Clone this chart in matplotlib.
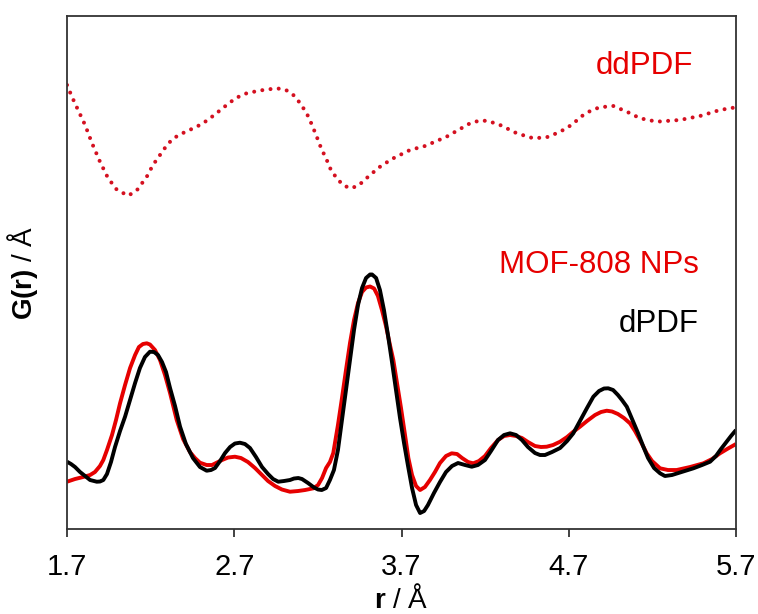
import matplotlib
matplotlib.use("Agg")
import matplotlib.pyplot as plt

plt.rcParams["font.family"] = ["Liberation Sans", "DejaVu Sans"]
plt.rcParams["mathtext.fontset"] = "custom"
plt.rcParams["mathtext.rm"] = "Liberation Sans"
plt.rcParams["mathtext.bf"] = "Liberation Sans:bold"

# dPDF (black)
r_dpdf = [1.700, 1.724, 1.748, 1.778, 1.808, 1.838, 1.878, 1.897, 1.917, 1.939,
          1.963, 1.987, 2.017, 2.047, 2.077, 2.107, 2.136, 2.166, 2.196, 2.220,
          2.244, 2.268, 2.292, 2.316, 2.346, 2.376, 2.411, 2.453, 2.495, 2.535,
          2.561, 2.585, 2.615, 2.645, 2.675, 2.704, 2.734, 2.764, 2.794, 2.830,
          2.866, 2.902, 2.932, 2.963, 2.997, 3.033, 3.057, 3.083, 3.105, 3.141,
          3.177, 3.201, 3.223, 3.249, 3.272, 3.296, 3.320, 3.344, 3.368, 3.392,
          3.416, 3.440, 3.464, 3.488, 3.512, 3.524, 3.548, 3.571, 3.595, 3.619,
          3.643, 3.667, 3.691, 3.715, 3.739, 3.763, 3.787, 3.811, 3.835, 3.858,
          3.894, 3.930, 3.966, 4.002, 4.038, 4.080, 4.120, 4.157, 4.199, 4.235,
          4.277, 4.313, 4.349, 4.385, 4.420, 4.456, 4.498, 4.528, 4.558, 4.600,
          4.648, 4.690, 4.727, 4.767, 4.809, 4.847, 4.881, 4.911, 4.936, 4.965,
          4.994, 5.018, 5.047, 5.078, 5.114, 5.146, 5.174, 5.210, 5.246, 5.275,
          5.317, 5.365, 5.445, 5.497, 5.545, 5.580, 5.610, 5.644, 5.670, 5.700]
g_dpdf = [0.673, 0.650, 0.620, 0.570, 0.530, 0.490, 0.473, 0.475, 0.490, 0.550,
          0.670, 0.820, 0.980, 1.123, 1.290, 1.460, 1.610, 1.720, 1.773, 1.770,
          1.740, 1.670, 1.570, 1.410, 1.230, 1.023, 0.850, 0.710, 0.620, 0.583,
          0.590, 0.610, 0.680, 0.760, 0.820, 0.855, 0.863, 0.850, 0.810, 0.720,
          0.620, 0.550, 0.500, 0.473, 0.480, 0.490, 0.505, 0.510, 0.500, 0.460,
          0.415, 0.395, 0.390, 0.410, 0.490, 0.590, 0.790, 1.090, 1.390, 1.690,
          1.990, 2.240, 2.410, 2.510, 2.545, 2.545, 2.510, 2.390, 2.190, 1.940,
          1.670, 1.390, 1.110, 0.860, 0.630, 0.410, 0.240, 0.160, 0.180, 0.240,
          0.360, 0.470, 0.570, 0.630, 0.660, 0.640, 0.623, 0.640, 0.690, 0.780,
          0.890, 0.940, 0.957, 0.940, 0.890, 0.820, 0.760, 0.740, 0.740, 0.770,
          0.810, 0.880, 0.957, 1.080, 1.210, 1.323, 1.380, 1.405, 1.407, 1.390,
          1.340, 1.290, 1.223, 1.100, 0.960, 0.823, 0.710, 0.610, 0.557, 0.530,
          0.540, 0.565, 0.607, 0.640, 0.673, 0.730, 0.800, 0.873, 0.930, 0.990]

# MOF-808 NPs (red)
r_mof = [1.700, 1.748, 1.796, 1.838, 1.867, 1.897, 1.917, 1.939, 1.969, 1.993,
         2.017, 2.047, 2.077, 2.107, 2.130, 2.154, 2.177, 2.196, 2.226, 2.256,
         2.286, 2.316, 2.356, 2.394, 2.435, 2.465, 2.495, 2.535, 2.567, 2.603,
         2.627, 2.663, 2.704, 2.740, 2.782, 2.824, 2.866, 2.902, 2.944, 2.985,
         3.033, 3.081, 3.123, 3.173, 3.201, 3.225, 3.249, 3.272, 3.292, 3.320,
         3.344, 3.368, 3.392, 3.416, 3.440, 3.464, 3.488, 3.512, 3.536, 3.559,
         3.583, 3.607, 3.631, 3.651, 3.673, 3.697, 3.721, 3.741, 3.763, 3.787,
         3.811, 3.840, 3.870, 3.900, 3.930, 3.966, 4.000, 4.032, 4.062, 4.098,
         4.129, 4.163, 4.199, 4.235, 4.277, 4.313, 4.349, 4.385, 4.420, 4.456,
         4.498, 4.534, 4.568, 4.606, 4.648, 4.690, 4.725, 4.767, 4.809, 4.857,
         4.893, 4.927, 4.959, 4.994, 5.030, 5.066, 5.096, 5.132, 5.166, 5.198,
         5.246, 5.293, 5.345, 5.425, 5.505, 5.557, 5.604, 5.652, 5.700]
g_mof = [0.473, 0.500, 0.520, 0.540, 0.570, 0.630, 0.690, 0.790, 0.940, 1.090,
         1.257, 1.440, 1.610, 1.740, 1.820, 1.850, 1.857, 1.845, 1.790, 1.690,
         1.540, 1.360, 1.090, 0.900, 0.770, 0.710, 0.663, 0.640, 0.640, 0.670,
         0.690, 0.715, 0.723, 0.710, 0.670, 0.610, 0.540, 0.480, 0.430, 0.395,
         0.373, 0.380, 0.390, 0.407, 0.440, 0.510, 0.610, 0.670, 0.760, 1.040,
         1.310, 1.590, 1.860, 2.090, 2.260, 2.370, 2.415, 2.425, 2.405, 2.330,
         2.190, 2.030, 1.840, 1.690, 1.460, 1.210, 0.940, 0.710, 0.540, 0.430,
         0.390, 0.420, 0.490, 0.570, 0.660, 0.730, 0.757, 0.750, 0.710, 0.670,
         0.657, 0.680, 0.730, 0.810, 0.890, 0.930, 0.940, 0.930, 0.910, 0.870,
         0.830, 0.820, 0.823, 0.840, 0.873, 0.920, 0.970, 1.023, 1.080, 1.140,
         1.170, 1.183, 1.175, 1.150, 1.110, 1.057, 0.980, 0.870, 0.757, 0.680,
         0.607, 0.590, 0.590, 0.620, 0.657, 0.700, 0.757, 0.805, 0.850]

# ddPDF (red dotted, offset)
r_dd = [1.700, 1.730, 1.766, 1.808, 1.849, 1.897, 1.945, 1.999, 2.067, 2.119,
        2.177, 2.214, 2.256, 2.298, 2.336, 2.394, 2.455, 2.507, 2.555, 2.603,
        2.655, 2.710, 2.774, 2.854, 2.954, 3.009, 3.053, 3.093, 3.133, 3.165,
        3.193, 3.219, 3.253, 3.278, 3.313, 3.350, 3.392, 3.440, 3.512, 3.577,
        3.651, 3.751, 3.841, 3.970, 4.050, 4.110, 4.169, 4.217, 4.289, 4.389,
        4.488, 4.568, 4.624, 4.688, 4.737, 4.787, 4.839, 4.887, 4.966, 5.047,
        5.126, 5.226, 5.365, 5.485, 5.604, 5.700]
g_dd = [4.440, 4.320, 4.190, 4.040, 3.860, 3.673, 3.510, 3.390, 3.333, 3.390,
        3.523, 3.640, 3.740, 3.840, 3.907, 3.960, 4.007, 4.050, 4.107, 4.170,
        4.240, 4.310, 4.357, 4.385, 4.407, 4.390, 4.340, 4.260, 4.157, 4.040,
        3.923, 3.810, 3.690, 3.590, 3.507, 3.440, 3.407, 3.430, 3.540, 3.630,
        3.707, 3.790, 3.830, 3.923, 4.000, 4.057, 4.085, 4.080, 4.040, 3.957,
        3.907, 3.917, 3.955, 4.007, 4.070, 4.140, 4.190, 4.217, 4.230, 4.173,
        4.107, 4.073, 4.090, 4.130, 4.190, 4.217]

x_ticks = [1.7, 2.7, 3.7, 4.7, 5.7]
x_tick_labels = ["1.7", "2.7", "3.7", "4.7", "5.7"]

RED = "#e60000"
DOT_RED = "#d41020"

fig = plt.figure(figsize=(7.58, 6.14), dpi=100)
ax = fig.add_axes([0.0884, 0.1384, 0.8826, 0.8356])

ax.plot(r_dd, g_dd, color=DOT_RED, lw=2.9, linestyle=(0, (0.001, 2.05)),
        dash_capstyle="round", solid_capstyle="round")
ax.plot(r_mof, g_mof, color=RED, lw=2.8, solid_joinstyle="round",
        solid_capstyle="butt")
ax.plot(r_dpdf, g_dpdf, color="black", lw=2.8, solid_joinstyle="round",
        solid_capstyle="butt")

ax.set_xlim(1.7, 5.7)
ax.set_ylim(0, 5.13)
ax.set_xticks(x_ticks)
ax.set_xticklabels(x_tick_labels)
ax.set_yticks([])
ax.tick_params(axis="x", direction="out", length=6, width=1.2,
               labelsize=21, pad=11, colors="#222222", labelcolor="black")
for sp in ax.spines.values():
    sp.set_color("#333333")
    sp.set_linewidth(1.3)

ax.set_xlabel(r"$\mathbf{r}$ / Å", fontsize=20, labelpad=3)
ax.set_ylabel(r"$\mathbf{G(r)}$ / Å", fontsize=20)
ax.yaxis.set_label_coords(-0.040, 0.5)

ax.text(0.936, 0.887, "ddPDF", transform=ax.transAxes, ha="right",
        va="baseline", fontsize=22.5, color=RED)
ax.text(0.944, 0.499, "MOF-808 NPs", transform=ax.transAxes, ha="right",
        va="baseline", fontsize=22.5, color=RED)
ax.text(0.944, 0.384, "dPDF", transform=ax.transAxes, ha="right",
        va="baseline", fontsize=22.5, color="black")

fig.savefig("out.png", dpi=100)
